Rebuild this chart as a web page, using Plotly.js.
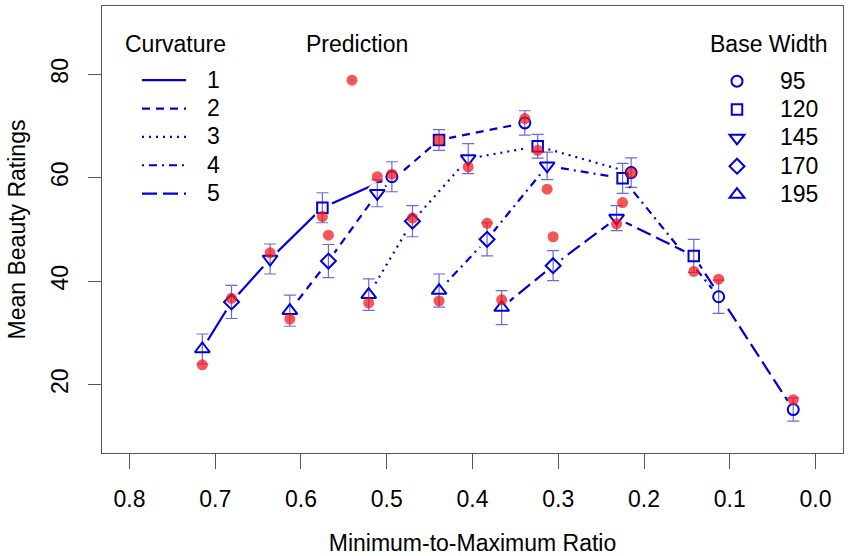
<!DOCTYPE html>
<html>
<head>
<meta charset="utf-8">
<script src="https://cdn.plot.ly/plotly-3.0.1.min.js"></script>
<style>
  html, body { margin: 0; padding: 0; background: #fff; }
  #chart { width: 850px; height: 556px; }
</style>
</head>
<body>
<div id="chart"></div>
<script>
// base widths (one marker symbol each) and curvature levels (one line style each)
const baseWidths = ['95', '120', '145', '170', '195'];
const curvatures = ['1', '2', '3', '4', '5'];

// minimum-to-maximum ratio, per curvature, ordered by base width 95..195
const ratioC1 = [0.494, 0.575, 0.636, 0.681, 0.715];
const ratioC2 = [0.339, 0.439, 0.511, 0.568, 0.613];
const ratioC3 = [0.215, 0.324, 0.405, 0.470, 0.521];
const ratioC4 = [0.113, 0.225, 0.313, 0.383, 0.439];
const ratioC5 = [0.026, 0.142, 0.232, 0.306, 0.366];

// mean beauty ratings
const meanC1 = [60.2, 54.2, 44.3, 36.0, 26.9];
const meanC2 = [70.6, 67.3, 57.0, 43.9, 34.3];
const meanC3 = [61.0, 66.1, 63.7, 51.6, 37.4];
const meanC4 = [37.0, 59.9, 62.3, 48.1, 38.2];
const meanC5 = [15.2, 44.9, 52.2, 43.0, 34.9];

// error bar half lengths
const errC1 = [2.9, 2.9, 2.9, 3.2, 2.9];
const errC2 = [2.35, 2.0, 2.6, 3.2, 3.0];
const errC3 = [2.85, 2.3, 2.9, 3.0, 3.05];
const errC4 = [3.2, 2.9, 2.65, 3.2, 3.2];
const errC5 = [2.25, 3.2, 2.4, 2.9, 3.3];

// model predictions
const predC1 = [60.7, 52.5, 45.5, 36.7, 23.85];
const predC2 = [71.45, 67.3, 60.2, 48.9, 32.7];
const predC3 = [60.95, 65.3, 62.1, 52.2, 35.8];
const predC4 = [40.4, 55.2, 57.8, 51.2, 36.2];
const predC5 = [17.1, 41.9, 51.1, 48.6, 36.4];

const RATIO = [ratioC1, ratioC2, ratioC3, ratioC4, ratioC5];
const MEAN = [meanC1, meanC2, meanC3, meanC4, meanC5];
const ERR = [errC1, errC2, errC3, errC4, errC5];
const PRED = [predC1, predC2, predC3, predC4, predC5];

const BLUE = '#0000D8';
const FONT = 'Liberation Sans, Arial, Helvetica, sans-serif';
const FSIZE = 23;
const DASHES = ['solid', '8px,6px', '2px,5px', '2px,5px,8px,5px', '15px,6px'];
const SYMBOLS = ['circle-open', 'square-open', 'triangle-down-open', 'diamond-open', 'triangle-up-open'];
const SIZES = [11, 10.5, 13, 11.5, 13];

// plot area in pixels, used to place the legends
const PLOT = {l: 102, r: 843, t: 6, b: 453};
function px(x) { return (x - PLOT.l) / (PLOT.r - PLOT.l); }
function py(y) { return (PLOT.b - y) / (PLOT.b - PLOT.t); }

// legend label: bigger text than the legend font, so the rows stay tight
function label(s, pad) {
    return '<span style="font-size:' + FSIZE + 'px">' + (pad || '') + s + '</span>';
}

var data = [];

// one line per curvature
for (let c = 0; c < curvatures.length; c++) {
    data.push({
        x: RATIO[c],
        y: MEAN[c],
        name: label(curvatures[c], '\u2002\u2009'),
        mode: 'lines',
        type: 'scatter',
        line: {color: BLUE, width: 2.2, dash: DASHES[c]},
        legend: 'legend',
        hoverinfo: 'skip'
    });
}

// white halo so the lines stop short of the points (like type = "b")
var allX = [], allY = [];
for (let c = 0; c < curvatures.length; c++) {
    allX = allX.concat(RATIO[c]);
    allY = allY.concat(MEAN[c]);
}
data.push({
    x: allX,
    y: allY,
    mode: 'markers',
    type: 'scatter',
    marker: {color: '#ffffff', size: 21, line: {width: 0}},
    showlegend: false,
    hoverinfo: 'skip'
});

// one marker trace per base width, with error bars
for (let b = 0; b < baseWidths.length; b++) {
    let X = [], Y = [], E = [];
    for (let c = 0; c < curvatures.length; c++) {
        X.push(RATIO[c][b]);
        Y.push(MEAN[c][b]);
        E.push(ERR[c][b]);
    }
    data.push({
        x: X,
        y: Y,
        name: label(baseWidths[b]),
        mode: 'markers',
        type: 'scatter',
        marker: {symbol: SYMBOLS[b], size: SIZES[b], color: BLUE, line: {width: 2, color: BLUE}},
        error_y: {type: 'data', array: E, visible: true, color: 'rgba(40,40,225,0.7)', thickness: 1.2, width: 6},
        legend: 'legend3'
    });
}

// predictions on top
var predX = [], predY = [];
for (let c = 0; c < curvatures.length; c++) {
    predX = predX.concat(RATIO[c]);
    predY = predY.concat(PRED[c]);
}
data.push({
    x: predX,
    y: predY,
    name: ' ',
    mode: 'markers',
    type: 'scatter',
    marker: {color: 'rgba(245,20,20,0.72)', size: 11},
    legend: 'legend2'
});

var legendCommon = {
    bgcolor: 'rgba(0,0,0,0)',
    borderwidth: 0,
    font: {family: FONT, size: 19.5, color: '#000'},
    xanchor: 'left',
    yanchor: 'top',
    tracegroupgap: 0
};

var layout = {
    width: 850,
    height: 556,
    margin: {l: PLOT.l, r: 850 - PLOT.r, t: PLOT.t, b: 556 - PLOT.b},
    paper_bgcolor: '#fff',
    plot_bgcolor: '#fff',
    font: {family: FONT, size: FSIZE, color: '#000'},
    showlegend: true,
    xaxis: {
        range: [0.832, -0.032],
        tickvals: [0.8, 0.7, 0.6, 0.5, 0.4, 0.3, 0.2, 0.1, 0.0],
        tickformat: '.1f',
        ticks: 'outside', ticklen: 15, tickwidth: 1, tickcolor: '#555',
        ticklabelstandoff: 10,
        showgrid: false, zeroline: false,
        showline: true, mirror: true, linecolor: '#555', linewidth: 1.2,
        title: {text: 'Minimum-to-Maximum Ratio', standoff: 24, font: {size: FSIZE}}
    },
    yaxis: {
        range: [6.8, 93.2],
        tickvals: [20, 40, 60, 80],
        tickangle: -90,
        ticks: 'outside', ticklen: 13, tickwidth: 1, tickcolor: '#555',
        ticklabelstandoff: 11,
        showgrid: false, zeroline: false,
        showline: true, mirror: true, linecolor: '#555', linewidth: 1.2,
        title: {text: 'Mean Beauty Ratings', standoff: 14, font: {size: FSIZE}}
    },
    legend: Object.assign({}, legendCommon, {x: px(137), y: py(61), itemwidth: 44}),
    legend2: Object.assign({}, legendCommon, {x: px(332), y: py(61)}),
    legend3: Object.assign({}, legendCommon, {x: px(694), y: py(62), itemwidth: 76}),
    annotations: [
        {text: 'Curvature', xref: 'paper', yref: 'paper', x: px(123), y: py(44), xanchor: 'left', yanchor: 'middle', showarrow: false},
        {text: 'Prediction', xref: 'paper', yref: 'paper', x: px(357), y: py(44), xanchor: 'center', yanchor: 'middle', showarrow: false},
        {text: 'Base Width', xref: 'paper', yref: 'paper', x: px(769), y: py(44), xanchor: 'center', yanchor: 'middle', showarrow: false}
    ]
};

Plotly.newPlot('chart', data, layout, {displayModeBar: false, staticPlot: true});
</script>
</body>
</html>
